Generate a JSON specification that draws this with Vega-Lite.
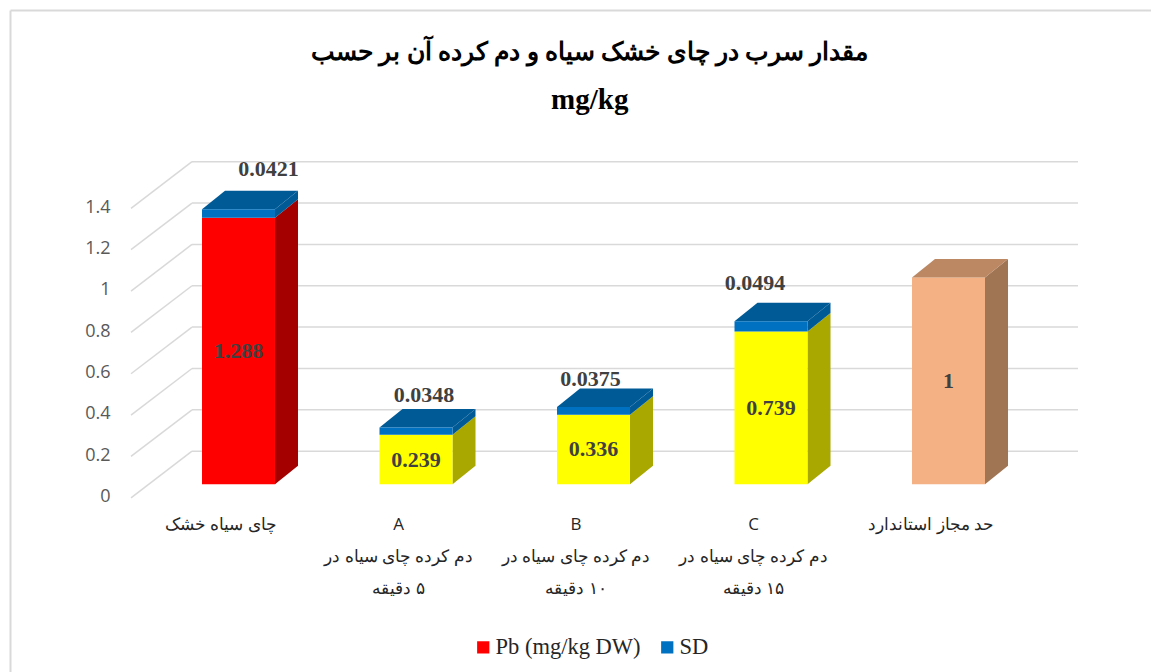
{
"$schema":"https://vega.github.io/schema/vega-lite/v6.json",
"width":1140.5,"height":661.5,
"autosize":{"type":"none"},
"padding":{"left":10.5,"top":10.5,"right":0,"bottom":0},
"background":"#ffffff",
"config":{"view":{"stroke":null}},
"title":{"text":"مقدار سرب در چای خشک سیاه و دم کرده آن بر حسب","subtitle":"mg/kg","font":"Liberation Serif","fontSize":25.25,"fontWeight":"bold","color":"#000000","subtitleFont":"Liberation Serif","subtitleFontSize":29,"subtitleFontWeight":"bold","subtitleColor":"#000000","subtitlePadding":20,"anchor":"middle","dx":9,"baseline":"top","offset":-105},
"datasets":{
"bars":[
{"order":1,"group":"dry","pb":1.288,"sd":0.0421},
{"order":2,"group":"brew","pb":0.239,"sd":0.0348},
{"order":3,"group":"brew","pb":0.336,"sd":0.0375},
{"order":4,"group":"brew","pb":0.739,"sd":0.0494},
{"order":5,"group":"std","pb":1,"sd":null}
],
"ticks":[{"t":0},{"t":0.2},{"t":0.4},{"t":0.6},{"t":0.8},{"t":1},{"t":1.2},{"t":1.4}]
},
"encoding":{
"x":{"field":"px","type":"quantitative","title":null,"scale":{"domain":[-0.2845,6.1408],"nice":false,"zero":false},
"axis":{"orient":"bottom","values":[1,2,3,4,5],"domain":false,"ticks":false,"grid":false,"offset":-156,"labelPadding":0,"labelOffset":-18,"labelOverlap":false,"labelBound":false,"labelFlush":false,"labelFont":"Open Sans","labelFontSize":17,"labelColor":"#262626","labelBaseline":"top","labelLineHeight":32,"labelAngle":0,
"labelExpr":"split(['چای سیاه خشک','A|دم کرده چای سیاه در|\u200f۵  دقیقه','B|دم کرده چای سیاه در|\u200f۱۰ دقیقه','C|دم کرده چای سیاه در|\u200f۱۵ دقیقه','حد مجاز استاندارد'][datum.value-1],'|')"}},
"y":{"field":"vy","type":"quantitative","title":null,"scale":{"domain":[-0.9081,2.2908],"nice":false,"zero":false},
"axis":{"orient":"left","values":[0,0.2,0.4,0.6,0.8,1,1.2,1.4],"format":"~g","domain":false,"ticks":false,"grid":false,"offset":-99.5,"labelPadding":0,"labelOffset":12.5,"labelOverlap":false,"labelBound":false,"labelFlush":false,"labelFont":"Open Sans","labelFontSize":18,"labelColor":"#595959"}}
},
"resolve":{"scale":{"color":"independent"}},
"layer":[
{"data":{"name":"ticks"},"transform":[{"filter":"datum.t==0"},{"calculate":"-0.2845","as":"px"},{"calculate":"6.1408","as":"px2"},{"calculate":"2.2908","as":"vy"}],
"mark":{"type":"rule","color":"#d9d9d9","strokeWidth":2},"encoding":{"x2":{"field":"px2"}}},
{"data":{"name":"ticks"},"transform":[{"filter":"datum.t==0"},{"calculate":"-0.2845","as":"px"},{"calculate":"2.2908","as":"vy"},{"calculate":"-0.9081","as":"vy2"}],
"mark":{"type":"rule","color":"#d9d9d9","strokeWidth":2},"encoding":{"y2":{"field":"vy2"}}},
{"data":{"name":"ticks"},"transform":[{"calculate":"0.738","as":"px"},{"calculate":"5.7296","as":"px2"},{"calculate":"datum.t+0.1597","as":"vy"}],
"mark":{"type":"rule","color":"#d9d9d9","strokeWidth":1.5},"encoding":{"x2":{"field":"px2"}}},
{"data":{"name":"ticks"},"transform":[{"calculate":"[0,1]","as":"d"},{"flatten":["d"]},{"calculate":"0.3944+0.3436*datum.d","as":"px"},{"calculate":"datum.t-0.0658+0.2255*datum.d","as":"vy"}],
"mark":{"type":"line","color":"#d9d9d9","strokeWidth":1.5},"encoding":{"detail":{"field":"t"}}},
{"data":{"name":"bars"},"transform":[{"calculate":"[0,1]","as":"d"},{"flatten":["d"]},{"calculate":"datum.order+0.2056+0.1296*datum.d","as":"px"},{"calculate":"datum.pb+0.0895*datum.d","as":"vy"},{"calculate":"0.0895*datum.d","as":"vy2"}],
"mark":{"type":"area","orient":"vertical"},"encoding":{"y2":{"field":"vy2"},"detail":{"field":"order"},"color":{"field":"group","type":"nominal","legend":null,"scale":{"domain":["dry","brew","std"],"range":["#a50000","#a8a800","#a07553"]}}}},
{"data":{"name":"bars"},"transform":[{"calculate":"datum.order-0.2056","as":"px"},{"calculate":"datum.order+0.2056","as":"px2"},{"calculate":"datum.pb","as":"vy"},{"calculate":"0","as":"vy2"}],
"mark":{"type":"rect"},"encoding":{"x2":{"field":"px2"},"y2":{"field":"vy2"},"color":{"field":"group","type":"nominal","legend":null,"scale":{"domain":["dry","brew","std"],"range":["#ff0000","#ffff00","#f4b183"]}}}},
{"data":{"name":"bars"},"transform":[{"filter":"datum.sd!=null"},{"calculate":"[0,1]","as":"d"},{"flatten":["d"]},{"calculate":"datum.order+0.2056+0.1296*datum.d","as":"px"},{"calculate":"datum.pb+datum.sd+0.0895*datum.d","as":"vy"},{"calculate":"datum.pb+0.0895*datum.d","as":"vy2"}],
"mark":{"type":"area","orient":"vertical","color":"#005a96"},"encoding":{"y2":{"field":"vy2"},"detail":{"field":"order"}}},
{"data":{"name":"bars"},"transform":[{"calculate":"[0,1]","as":"d"},{"flatten":["d"]},{"calculate":"datum.order-0.2056+0.1296*datum.d","as":"px"},{"calculate":"datum.order+0.2056+0.1296*datum.d","as":"px2"},{"calculate":"datum.pb+(datum.sd||0)+0.0895*datum.d","as":"vy"}],
"mark":{"type":"area","orient":"horizontal"},"encoding":{"x2":{"field":"px2"},"detail":{"field":"order"},"color":{"field":"group","type":"nominal","legend":null,"scale":{"domain":["dry","brew","std"],"range":["#005a96","#005a96","#bc8763"]}}}},
{"data":{"name":"bars"},"transform":[{"filter":"datum.sd!=null"},{"calculate":"datum.order-0.2056","as":"px"},{"calculate":"datum.order+0.2056","as":"px2"},{"calculate":"datum.pb+datum.sd","as":"vy"},{"calculate":"datum.pb","as":"vy2"},{"calculate":"'SD'","as":"series"}],
"mark":{"type":"rect"},"encoding":{"x2":{"field":"px2"},"y2":{"field":"vy2"},"color":{"field":"series","type":"nominal","scale":{"domain":["Pb (mg/kg DW)","SD"],"range":["#ff0000","#0070c0"]},
"legend":{"title":null,"orient":"none","direction":"horizontal","legendX":461.5,"legendY":625.5,"symbolType":"square","symbolSize":150,"symbolStrokeWidth":0,"labelFont":"Liberation Serif","labelFontSize":22.5,"labelColor":"#262626","columnPadding":15,"labelOffset":1}}}},
{"data":{"name":"bars"},"transform":[{"calculate":"datum.order","as":"px"},{"calculate":"datum.pb/2","as":"vy"}],
"mark":{"type":"text","font":"Liberation Serif","fontWeight":"bold","fontSize":22,"color":"#404040"},"encoding":{"text":{"field":"pb","type":"nominal"}}},
{"data":{"name":"bars"},"transform":[{"filter":"datum.order==1"},{"calculate":"datum.order","as":"px"},{"calculate":"datum.pb+datum.sd","as":"vy"}],
"mark":{"type":"text","font":"Liberation Serif","fontWeight":"bold","fontSize":22,"color":"#404040","dx":30,"dy":-40},"encoding":{"text":{"field":"sd","type":"nominal"}}},
{"data":{"name":"bars"},"transform":[{"filter":"datum.order==2"},{"calculate":"datum.order","as":"px"},{"calculate":"datum.pb+datum.sd","as":"vy"}],
"mark":{"type":"text","font":"Liberation Serif","fontWeight":"bold","fontSize":22,"color":"#404040","dx":8,"dy":-33},"encoding":{"text":{"field":"sd","type":"nominal"}}},
{"data":{"name":"bars"},"transform":[{"filter":"datum.order==3"},{"calculate":"datum.order","as":"px"},{"calculate":"datum.pb+datum.sd","as":"vy"}],
"mark":{"type":"text","font":"Liberation Serif","fontWeight":"bold","fontSize":22,"color":"#404040","dx":-3,"dy":-28},"encoding":{"text":{"field":"sd","type":"nominal"}}},
{"data":{"name":"bars"},"transform":[{"filter":"datum.order==4"},{"calculate":"datum.order","as":"px"},{"calculate":"datum.pb+datum.sd","as":"vy"}],
"mark":{"type":"text","font":"Liberation Serif","fontWeight":"bold","fontSize":22,"color":"#404040","dx":-16,"dy":-38},"encoding":{"text":{"field":"sd","type":"nominal"}}}
]
}
